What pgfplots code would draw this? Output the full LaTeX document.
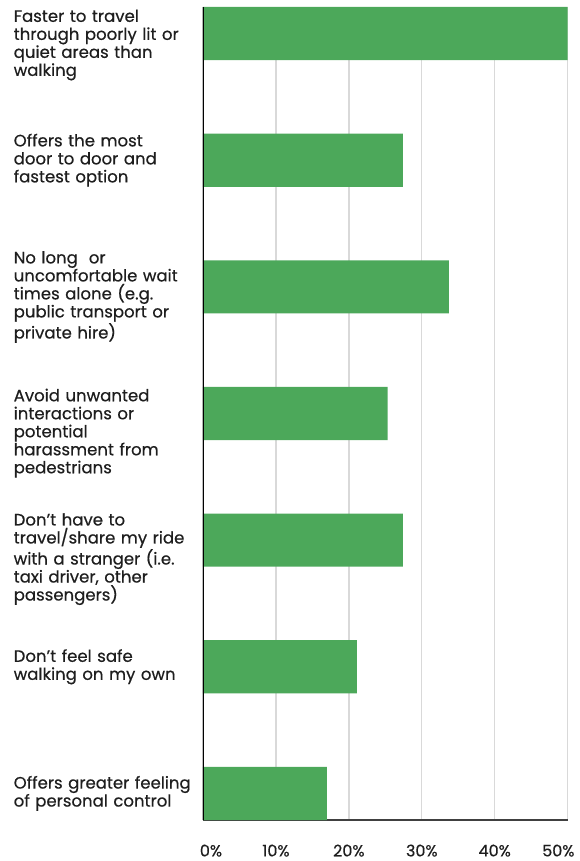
\documentclass[border=0pt]{standalone}
\usepackage{fontspec}
\setmainfont{Poppins}[FakeBold=0.5]
\usepackage{pgfplots}
\pgfplotsset{compat=1.18}
\definecolor{bargreen}{RGB}{76,168,90}
\definecolor{txt}{RGB}{30,30,30}
\definecolor{gridgray}{RGB}{217,217,217}

\begin{document}
\begin{tikzpicture}
\begin{axis}[
  name=ax,
  width=273.5pt, height=609.75pt, scale only axis,
  xmin=0, xmax=50, ymin=-0.21, ymax=6.21,
  axis x line*=bottom, axis y line*=left,
  x axis line style={draw=txt!85, line width=0.8pt, -},
  y axis line style={draw=none},
  xtick={0,10,20,30,40,50},
  xticklabels={\kern12pt 0\%,10\%,20\%,30\%,40\%,{50\%\kern14pt}},
  xmajorgrids, grid style={gridgray, line width=1pt},
  major tick length=0pt,
  ytick={5.91,5,3.92,2.845,1.85,1,0},
  yticklabels={
    {Faster to travel\\through poorly lit or\\quiet areas than\\walking},
    {Offers the most\\door to door and\\fastest option},
    {No long~ or\\uncomfortable wait\\times alone (e.g.\\public transport or\\private hire)},
    {Avoid unwanted\\interactions or\\potential\\harassment from\\pedestrians},
    {Don’t have to\\travel/share my ride\\with a stranger (i.e.\\taxi driver, other\\passengers)},
    {Don’t feel safe\\walking on my own},
    {Offers greater feeling\\of personal control}},
  yticklabel style={anchor=east, text width=138pt, align=left, inner sep=0pt,
    xshift=-3.75pt, font=\fontsize{12.4pt}{13.5pt}\selectfont, text=txt},
  xticklabel style={anchor=base, yshift=-27.3pt, inner sep=0pt,
    font=\fontsize{12pt}{13.5pt}\selectfont, text=txt},
]
\addplot[xbar, bar width=0.42, bar shift=0pt, fill=bargreen, draw=none]
  coordinates {(50,6) (27.4,5) (33.7,4) (25.3,3) (27.4,2) (21.1,1) (17.0,0)};
\draw[black, line width=1.3pt] (axis cs:0,-0.21) -- (axis cs:0,6.21);
\end{axis}
\pgfresetboundingbox
\path ([xshift=-152.25pt,yshift=-30.75pt]ax.south west) rectangle ([xshift=8.5pt,yshift=5.25pt]ax.north east);
\end{tikzpicture}
\end{document}
